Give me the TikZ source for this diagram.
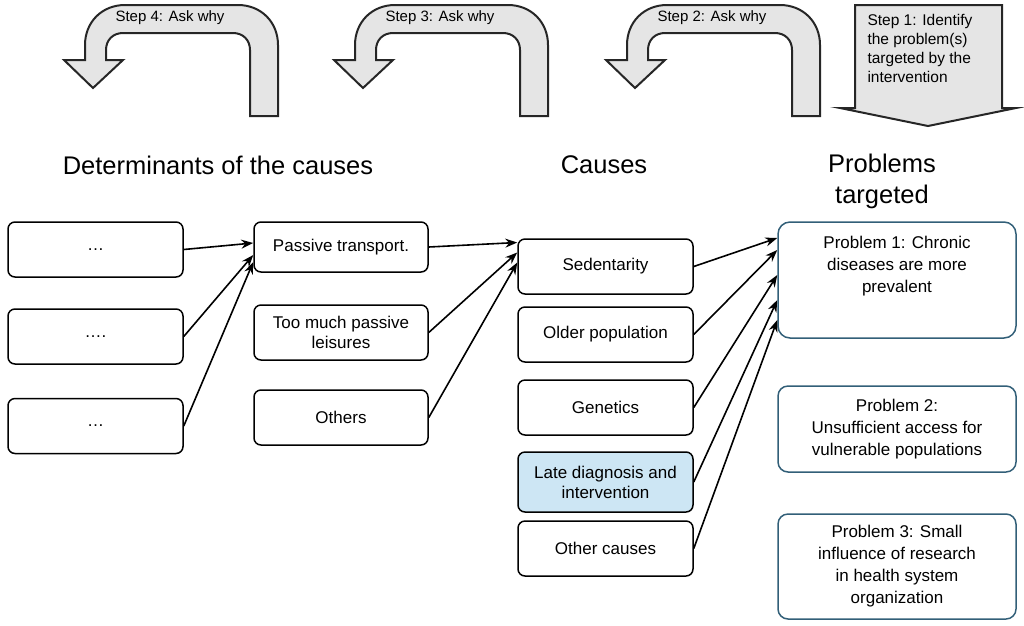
\documentclass[tikz,border=0pt]{standalone}
\usepackage{fontspec}
\setmainfont{Liberation Sans}
\usetikzlibrary{arrows.meta}
\definecolor{pcol}{RGB}{50,95,120}
\definecolor{lblue}{RGB}{205,230,244}
\begin{document}
\begin{tikzpicture}[x=1pt,y=-1pt,
  box/.style={draw=black,line width=1.5pt,rounded corners=7pt,align=center,font=\fontsize{17}{20}\selectfont,inner sep=0pt},
  pbox/.style={box,draw=pcol},
  head/.style={font=\fontsize{25.5}{31}\selectfont,align=center},
  steplbl/.style={font=\fontsize{15}{17}\selectfont,align=center},
  con/.style={line width=1.6pt,-{Stealth[length=12pt,width=9pt]}},
  bent/.style={draw=black!85,fill=black!10,line width=2pt}]
\useasboundingbox (0,0) rectangle (1024,625);
% curved arrows
\foreach \s in {0,-272,-542}{
\draw[bent,xshift=\s] (820,116) -- (820,45) .. controls (820,22) and (803,5) .. (780,5) -- (667,5)
  .. controls (644,5) and (627,22) .. (627,45) -- (627,60) -- (606,60) -- (635,88) -- (665,60) -- (648,60) -- (648,50)
  .. controls (648,40) and (655,33) .. (665,33) -- (775,33) .. controls (785,33) and (792,40) .. (792,50) -- (792,116) -- cycle;}
\node[steplbl] (s2) at (712,18) {Step 2: Ask why};
\node[steplbl] (s3) at (440,18) {Step 3: Ask why};
\node[steplbl] (s4) at (170,18) {Step 4: Ask why};
\draw[bent] (855,5) -- (1002,5) -- (1002,108) -- (1016,108) -- (928,126) -- (840,108) -- (855,108) -- cycle;
\node[steplbl,font=\fontsize{15.5}{19}\selectfont,align=left,anchor=north west] (s1) at (864,11) {Step 1: Identify\\the problem(s)\\targeted by the\\intervention};
% headings
\node[head] (h1) at (218,165) {Determinants of the causes};
\node[head] (h2) at (604,165) {Causes};
\node[head] (h3) at (882,181) {Problems\\targeted};
% column 1
\node[box,minimum width=175,minimum height=55] (a1) at (95.5,249.5) {…};
\node[box,minimum width=175,minimum height=55] (a2) at (95.5,336.5) {….};
\node[box,minimum width=175,minimum height=55] (a3) at (95.5,426) {…};
% column 2
\node[box,minimum width=174,minimum height=50] (b1) at (341,247) {Passive transport.};
\node[box,minimum width=174,minimum height=55] (b2) at (341,332.5) {Too much passive\\leisures};
\node[box,minimum width=174,minimum height=55] (b3) at (341,417.5) {Others};
% causes
\node[box,minimum width=175,minimum height=55] (c1) at (605.5,266.5) {Sedentarity};
\node[box,minimum width=175,minimum height=55] (c2) at (605.5,334.5) {Older population};
\node[box,minimum width=175,minimum height=55] (c3) at (605.5,407.5) {Genetics};
\node[box,minimum width=175,minimum height=60,fill=lblue] (c4) at (605.5,482) {Late diagnosis and\\intervention};
\node[box,minimum width=175,minimum height=55] (c5) at (605.5,548.5) {Other causes};
% problems
\node[pbox,minimum width=238,minimum height=116,rounded corners=12pt] (p1) at (897,280) {};
\node[font=\fontsize{17}{22}\selectfont,align=center] (p1t) at (897,266) {Problem 1: Chronic\\diseases are more\\prevalent};
\node[pbox,minimum width=238,minimum height=86,rounded corners=10pt,font=\fontsize{17}{22}\selectfont] (p2) at (897,429) {Problem 2:\\Unsufficient access for\\vulnerable populations};
\node[pbox,minimum width=238,minimum height=105,rounded corners=10pt,font=\fontsize{17}{22}\selectfont] (p3) at (897,566.5) {Problem 3: Small\\influence of research\\in health system\\organization};
% connectors
\draw[con] (a1.east) -- ([yshift=4]b1.west);
\draw[con] (a2.east) -- ([yshift=-8]b1.west);
\draw[con] (a3.east) -- ([yshift=-15]b1.west);
\draw[con] (b1.east) -- ([yshift=24]c1.west);
\draw[con] (b2.east) -- ([yshift=14]c1.west);
\draw[con] (b3.east) -- ([yshift=4]c1.west);
\draw[con] (c1.east) -- ([yshift=42]p1.west);
\draw[con] (c2.east) -- ([yshift=30]p1.west);
\draw[con] (c3.east) -- ([yshift=5]p1.west);
\draw[con] (c4.east) -- ([yshift=-20]p1.west);
\draw[con] (c5.east) -- ([yshift=-40]p1.west);
\end{tikzpicture}
\end{document}
